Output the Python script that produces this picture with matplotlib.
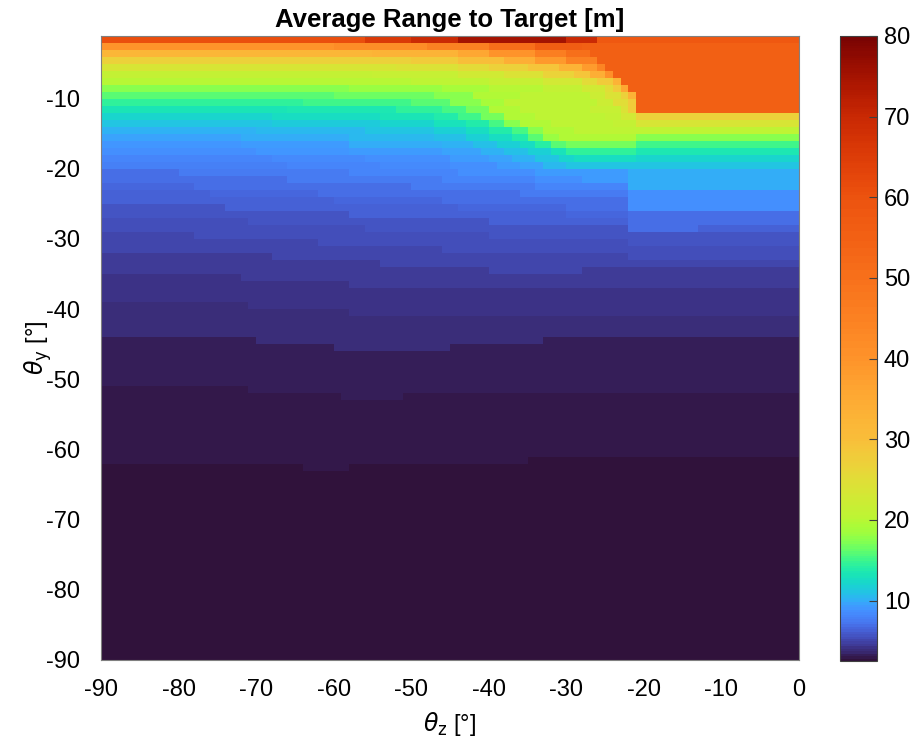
import numpy as np
import matplotlib
matplotlib.use("Agg")
import matplotlib.pyplot as plt
from matplotlib.colors import ListedColormap

plt.rcParams['font.family'] = ['Liberation Sans', 'DejaVu Sans']
plt.rcParams['axes.unicode_minus'] = False

# ---- grid (cell edges, degrees) ----
theta_z_edges = np.arange(-90, 1)      # 90 columns
theta_y_edges = np.arange(-90, 0)      # 89 rows, -90 .. -1

# ---- upper rows (theta_y -1 .. -20), one list per 1-degree row, from top ----
# each entry: (theta_z where the segment starts, range value [m])
top_rows = [
    [(-90, 61), (-56, 66), (-50, 70), (-44, 75), (-30, 70), (-26, 58)],
    [(-90, 40), (-60, 42), (-48, 45), (-40, 50), (-34, 56), (-28, 55)],
    [(-90, 32), (-55, 33), (-44, 36), (-40, 40), (-34, 46), (-30, 50), (-27, 55)],
    [(-90, 27), (-50, 28), (-44, 30), (-38, 34), (-34, 39), (-30, 45), (-26, 55)],
    [(-90, 23.5), (-52, 24), (-44, 25.5), (-40, 27), (-35, 29), (-31, 33), (-28, 38), (-26, 44), (-25, 55)],
    [(-90, 21), (-55, 21.5), (-44, 22.5), (-38, 24), (-33, 26.5), (-29, 29), (-27, 34), (-25, 41), (-24, 55)],
    [(-90, 20), (-50, 20.5), (-40, 21.5), (-33, 23), (-28, 25.5), (-26, 28), (-24, 33), (-23, 55)],
    [(-90, 17.5), (-58, 18), (-46, 19), (-40, 20), (-33, 21), (-28, 22.5), (-25, 25), (-24, 28), (-23, 36), (-22, 55)],
    [(-90, 16), (-60, 16.5), (-47, 17.5), (-42, 19.5), (-36, 20.5), (-27, 22), (-25, 24), (-23, 27), (-22, 33), (-21, 55)],
    [(-90, 14.4), (-64, 15), (-50, 16), (-45, 17.5), (-41, 19), (-38, 20.5), (-26, 22), (-24, 25), (-22, 28), (-21, 55)],
    [(-90, 13.1), (-66, 13.6), (-52, 14.4), (-46, 15.5), (-43, 17), (-40, 19.5), (-36, 20.5), (-27, 21.5), (-23, 24), (-22, 28), (-21, 55)],
    [(-90, 12.0), (-68, 12.5), (-54, 13.1), (-47, 14), (-44, 15), (-41, 17), (-38, 19.5), (-34, 20.5), (-25, 21), (-23, 23), (-21, 27)],
    [(-90, 11.0), (-68, 11.5), (-54, 12.0), (-47, 12.8), (-43, 14), (-40, 15.5), (-38, 17.5), (-36, 19.5), (-32, 20.5), (-24, 21), (-21, 23.5)],
    [(-90, 10.2), (-70, 10.6), (-56, 11.0), (-47, 11.6), (-43, 12.6), (-40, 13.8), (-37, 15.5), (-35, 17.5), (-33, 19.5), (-29, 20.5), (-21, 20.5)],
    [(-90, 9.6), (-72, 10.0), (-58, 10.4), (-47, 10.9), (-43, 11.6), (-40, 12.6), (-37, 14), (-35, 16), (-33, 18), (-31, 19.5), (-21, 17.5)],
    [(-90, 9.0), (-72, 9.4), (-58, 9.8), (-46, 10.2), (-42, 10.8), (-39, 11.6), (-36, 12.6), (-34, 14.2), (-32, 16), (-30, 17), (-21, 15)],
    [(-90, 8.6), (-70, 9.0), (-58, 9.3), (-46, 9.7), (-41, 10.2), (-38, 10.8), (-35, 11.8), (-32, 13), (-30, 14.4), (-21, 13.5)],
    [(-90, 8.2), (-68, 8.5), (-56, 8.8), (-45, 9.2), (-40, 9.7), (-37, 10.2), (-34, 11.0), (-31, 12.0), (-29, 12.5), (-21, 12)],
    [(-90, 7.8), (-66, 8.1), (-54, 8.4), (-45, 8.8), (-39, 9.2), (-36, 9.7), (-33, 10.4), (-30, 11.0), (-21, 11.0)],
]

# ---- lower part (theta_y below -20): banded range levels ----
lower_levels = [2.6, 3.0, 3.4, 3.8, 4.2, 4.6, 5.0, 5.4, 5.8, 6.2, 6.6, 7.0, 7.5, 8.0, 8.6, 9.2, 9.8]
# edge (theta_y) between consecutive levels, as steps along theta_z
lower_boundaries = [
    [(-90, -62), (-64, -63), (-58, -62), (-35, -61)],
    [(-90, -51), (-71, -52), (-59, -53), (-51, -52)],
    [(-90, -44), (-70, -45), (-60, -46), (-45, -45), (-33, -44)],
    [(-90, -39), (-71, -40), (-58, -41)],
    [(-90, -35), (-72, -36), (-58, -37), (-36, -37)],
    [(-90, -32), (-68, -33), (-54, -34), (-40, -35), (-28, -34)],
    [(-90, -29), (-78, -30), (-62, -31), (-46, -32), (-22, -33)],
    [(-90, -27), (-71, -28), (-56, -29), (-40, -30), (-22, -31)],
    [(-90, -25), (-74, -26), (-58, -27), (-40, -28), (-22, -29)],
    [(-90, -23), (-76, -24), (-60, -25), (-44, -26), (-30, -27), (-22, -29), (-13, -28)],
    [(-90, -22), (-78, -23), (-62, -24), (-46, -25), (-30, -26), (-22, -29), (-13, -28)],
    [(-90, -20), (-80, -21), (-66, -22), (-50, -23), (-36, -24), (-22, -26)],
    [(-90, -20), (-70, -20), (-58, -21), (-46, -22), (-34, -23), (-22, -26)],
    [(-90, -20), (-54, -20), (-44, -21), (-34, -22), (-22, -26)],
    [(-90, -20), (-42, -20), (-34, -21), (-28, -22), (-22, -23)],
    [(-90, -20), (-32, -20), (-22, -23)],
]

# ---- colour scale (value -> position in turbo) ----
cbar_values = [2.5, 3.0, 3.5, 4.0, 5.0, 6.0, 7.0, 8.0, 9.0, 10, 12, 14, 16, 18, 20, 25, 30, 40, 50, 60, 70, 80]
cbar_turbo_pos = [0.0, 0.015, 0.03, 0.045, 0.075, 0.105, 0.14, 0.165, 0.195, 0.235, 0.30, 0.36,
                  0.425, 0.485, 0.535, 0.60, 0.66, 0.725, 0.77, 0.81, 0.89, 1.0]
vmin, vmax = 2.5, 80


def step_value(steps, z):
    val = steps[0][1]
    for zs, v in steps:
        if z >= zs:
            val = v
    return val


nrows = len(theta_y_edges) - 1
ncols = len(theta_z_edges) - 1
R = np.zeros((nrows, ncols))
for i in range(nrows):
    yb = theta_y_edges[i]
    yt = yb + 1
    for j in range(ncols):
        z = theta_z_edges[j]
        if yt >= -19:
            R[i, j] = step_value(top_rows[-yt - 1], z)
        else:
            k = sum(1 for b in lower_boundaries if step_value(b, z) <= yb)
            R[i, j] = lower_levels[k]

turbo = plt.get_cmap('turbo')
samp = np.linspace(vmin, vmax, 256)
cmap = ListedColormap(turbo(np.interp(samp, cbar_values, cbar_turbo_pos)))

W, H = 920, 748
fig = plt.figure(figsize=(W / 100, H / 100), dpi=100)
ax = fig.add_axes([101 / W, 1 - 660 / H, 698 / W, 624.5 / H])
mesh = ax.pcolormesh(theta_z_edges, theta_y_edges, R, cmap=cmap, vmin=vmin, vmax=vmax,
                     shading='flat', rasterized=True)
ax.set_xlim(-90, 0)
ax.set_ylim(-90, -1)
ax.set_xticks(np.arange(-90, 1, 10))
ax.set_yticks(np.arange(-90, -9, 10))
ax.tick_params(labelsize=17, direction='in', length=0)
ax.tick_params(axis='x', pad=14)
ax.tick_params(axis='y', pad=15)
for s in ax.spines.values():
    s.set_color('#808080')
    s.set_linewidth(0.8)
ax.set_title('Average Range to Target [m]', fontsize=18.5, fontweight='bold', pad=6)
ax.set_xlabel(r'$\theta_{\mathrm{z}}$ [°]', fontsize=17, labelpad=6)
ax.set_ylabel(r'$\theta_{\mathrm{y}}$ [°]', fontsize=17, labelpad=-6)

cax = fig.add_axes([840 / W, 1 - 661 / H, 37 / W, 625 / H])
cb = fig.colorbar(mesh, cax=cax)
cb.set_ticks(np.arange(10, 81, 10))
cb.ax.tick_params(labelsize=17, direction='in', length=6, width=0.8, color='#404040', pad=5)
cb.outline.set_edgecolor('#404040')
cb.outline.set_linewidth(0.8)

fig.savefig('out.png', dpi=100)
